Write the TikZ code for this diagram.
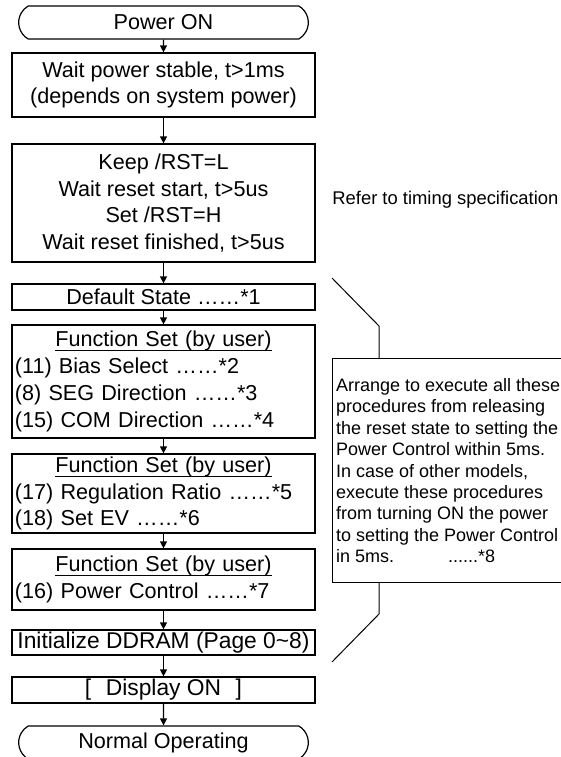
\documentclass[tikz,border=0pt]{standalone}
\usepackage{fontspec}
\setmainfont{Liberation Sans}
\usetikzlibrary{shapes,arrows.meta,positioning}

\newcommand{\ultext}[1]{\setbox0\hbox{#1}\rlap{\rule[-2.2pt]{\wd0}{0.5pt}}\box0}

\tikzset{
    stepbox/.style={
        draw,
        line width=0.6pt,
        rectangle,
        minimum width=151.5pt,
        inner xsep=1.5pt,
        inner ysep=0.5pt,
        align=center,
        font=\fontsize{10.8}{13.4}\selectfont
    },
    funcbox/.style={
        stepbox,
        align=left,
        text width=148.5pt
    },
    endbox/.style={
        draw,
        line width=0.6pt,
        rounded rectangle,
        rounded rectangle arc length=120,
        minimum width=151.5pt,
        minimum height=16.5pt,
        inner ysep=0.5pt,
        font=\fontsize{10.8}{13.4}\selectfont
    },
    notebox/.style={
        draw,
        line width=0.6pt,
        rectangle,
        anchor=north west,
        minimum width=115.5pt,
        minimum height=112pt,
        inner xsep=1pt,
        align=left,
        font=\fontsize{9}{10.7}\selectfont
    },
    flow/.style={
        line width=0.6pt,
        -{Triangle[length=3.5pt,width=3.5pt]}
    },
    callout/.style={
        line width=0.5pt
    }
}

\begin{document}
\begin{tikzpicture}[x=0.5pt,y=-0.5pt]
                \useasboundingbox (0,0) rectangle (561,757);

                % main flow
                \node[endbox] (pon) at (163.5,22.5) {Power ON};

                \node[stepbox, minimum height=32pt] (wait) at (163.5,85)
                    {Wait power stable, t>1ms\\(depends on system power)};

                \node[stepbox, minimum height=59pt] (rst) at (163.5,203)
                    {Keep /RST=L\\Wait reset start, t>5us\\Set /RST=H\\Wait reset finished, t>5us};

                \node[stepbox, minimum height=13pt] (dflt) at (163.5,297) {Default State ……*1};

                \node[funcbox, minimum height=56.5pt] (fsbias) at (163.5,381.5)
                    {\makebox[\linewidth]{\ultext{Function Set (by user)}}\\
                     (11) Bias Select ……*2\\
                     (8) SEG Direction ……*3\\
                     (15) COM Direction ……*4};

                \node[funcbox, minimum height=39.5pt] (fsreg) at (163.5,493.5)
                    {\makebox[\linewidth]{\ultext{Function Set (by user)}}\\
                     (17) Regulation Ratio ……*5\\
                     (18) Set EV ……*6};

                \node[funcbox, minimum height=30.5pt] (fspow) at (163.5,579.5)
                    {\makebox[\linewidth]{\ultext{Function Set (by user)}}\\
                     (16) Power Control ……*7};

                \node[stepbox, minimum height=12.5pt, font=\fontsize{11.4}{13.4}\selectfont] (ddram) at (163.5,642.5)
                    {Initialize DDRAM (Page 0\textasciitilde8)};

                \node[stepbox, minimum height=13pt, font=\fontsize{11.4}{13.4}\selectfont] (dispon) at (163.5,690)
                    {[\hspace{0.64em}Display ON\hspace{0.64em}]};

                \node[endbox] (normal) at (163.5,742.5) {Normal Operating};

                \draw[flow] (pon) -- (wait);
                \draw[flow] (wait) -- (rst);
                \draw[flow] (rst) -- (dflt);
                \draw[flow] (dflt) -- (fsbias);
                \draw[flow] (fsbias) -- (fsreg);
                \draw[flow] (fsreg) -- (fspow);
                \draw[flow] (fspow) -- (ddram);
                \draw[flow] (ddram) -- (dispon);
                \draw[flow] (dispon) -- (normal);

                % notes on the right
                \node[anchor=west, inner sep=0pt, font=\fontsize{9.2}{11}\selectfont] (timing) at (332,200)
                    {Refer to timing specification};

                \node[notebox] (note) at (332,358)
                    {Arrange to execute all these\\
                     procedures from releasing\\
                     the reset state to setting the\\
                     Power Control within 5ms.\\
                     In case of other models,\\
                     execute these procedures\\
                     from turning ON the power\\
                     to setting the Power Control\\
                     in 5ms.\hspace{27pt}......*8};

                \coordinate (uptop) at (332,278);
                \coordinate (upknee) at (379,326);
                \coordinate (lowknee) at (379,614);
                \coordinate (lowend) at (332,662);

                \draw[callout] (uptop) -- (upknee) -- (upknee |- note.north);
                \draw[callout] (note.south -| lowknee) -- (lowknee) -- (lowend);
\end{tikzpicture}
\end{document}
